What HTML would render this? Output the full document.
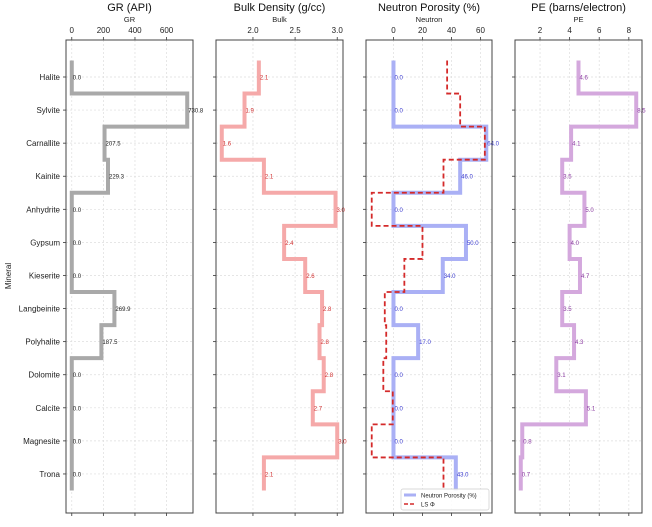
<!DOCTYPE html>
<html><head><meta charset="utf-8"><style>
body{margin:0;background:#fff;}
svg{font-family:"Liberation Sans","DejaVu Sans",sans-serif;}
</style></head><body>
<svg id="chart" width="652" height="522" xmlns="http://www.w3.org/2000/svg"></svg>
<script>
const minerals=["Halite","Sylvite","Carnallite","Kainite","Anhydrite","Gypsum","Kieserite","Langbeinite","Polyhalite","Dolomite","Calcite","Magnesite","Trona"];
const grValues=[0,730.8,207.5,229.3,0,0,0,269.9,187.5,0,0,0,0];
const bulkValues=[2.07,1.9,1.63,2.13,2.98,2.37,2.62,2.82,2.79,2.84,2.71,3.0,2.13];
const neutronValues=[0,0,64,46,0,50,34,0,17,0,0,0,43];
const lsPhiValues=[37,46,63,34.5,-15,20,7.5,-6,-5,-7,-0.5,-15,34.5];
const peValues=[4.6,8.5,4.1,3.5,5.0,4.0,4.7,3.5,4.3,3.1,5.1,0.8,0.7];
const grTicks=[0,200,400,600];
const bulkTicks=[2.0,2.5,3.0];
const neutronTicks=[0,20,40,60];
const peTicks=[2,4,6,8];

const svg=document.getElementById('chart');
const NS='http://www.w3.org/2000/svg';
function mk(tag,attrs,parent,text){const e=document.createElementNS(NS,tag);for(const k in attrs)e.setAttribute(k,attrs[k]);if(text!==undefined)e.textContent=text;(parent||svg).appendChild(e);return e;}
const plotTop=40,plotBottom=513;
const y0=77,dy=33.08;
function yPos(i){return y0+i*dy;}

const panels=[
 {name:"gr",title:"GR (API)",sub:"GR",x0:66,x1:193,series:[{v:grValues,color:"#a9a9a9",dash:null,w:4,lab:"#222"}],ticks:grTicks,tickFmt:v=>String(v)},
 {name:"bulk",title:"Bulk Density (g/cc)",sub:"Bulk",x0:216,x1:343,series:[{v:bulkValues,color:"#f5a9a9",dash:null,w:4,lab:"#d03030"}],ticks:bulkTicks,tickFmt:v=>v.toFixed(1)},
 {name:"neutron",title:"Neutron Porosity (%)",sub:"Neutron",x0:366,x1:492,series:[{v:neutronValues,color:"#aab0f5",dash:null,w:4,lab:"#3a3ad0"},{v:lsPhiValues,color:"#d42a2a",dash:"5,3",w:1.8,lab:null}],ticks:neutronTicks,tickFmt:v=>String(v)},
 {name:"pe",title:"PE (barns/electron)",sub:"PE",x0:515,x1:642,series:[{v:peValues,color:"#d4a8dd",dash:null,w:4,lab:"#8a3aa0"}],ticks:peTicks,tickFmt:v=>String(v)}
];

panels.forEach((p,pi)=>{
  const g=mk('g',{});
  
  
  let all=[];p.series.forEach(s=>all=all.concat(s.v));
  const mn=Math.min(...all),mx=Math.max(...all),m=(mx-mn)*0.05;
  const d0=mn-m,d1=mx+m;
  const X=v=>p.x0+(v-d0)/(d1-d0)*(p.x1-p.x0);
  const cx=(p.x0+p.x1)/2;
  const t=mk('text',{x:cx,y:11,'text-anchor':'middle','font-size':11,fill:'#111'},g,p.title);
  
  
  const st=mk('text',{x:cx,y:22,'text-anchor':'middle','font-size':7.5,fill:'#222'},g,p.sub);
  
  
  p.ticks.forEach(tv=>{
    const x=X(tv);
    mk('line',{x1:x,x2:x,y1:plotTop,y2:plotBottom,stroke:'#ddd','stroke-width':0.7,'stroke-dasharray':'2,2'},g);
    const tl=mk('text',{x:x,y:33,'text-anchor':'middle','font-size':8,fill:'#222'},g,p.tickFmt(tv));
    
    
    mk('line',{x1:x,x2:x,y1:plotTop,y2:plotTop-3,stroke:'#333','stroke-width':0.8},g);
    mk('line',{x1:x,x2:x,y1:plotBottom,y2:plotBottom+3,stroke:'#333','stroke-width':0.8},g);
  });
  minerals.forEach((mname,i)=>{
    const y=yPos(i);
    mk('line',{x1:p.x0,x2:p.x1,y1:y,y2:y,stroke:'#ddd','stroke-width':0.7,'stroke-dasharray':'2,2'},g);
    mk('line',{x1:p.x0,x2:p.x0-3,y1:y,y2:y,stroke:'#333','stroke-width':0.8},g);
    if(pi===0){
      const yl=mk('text',{x:p.x0-6,y:y+3,'text-anchor':'end','font-size':8,fill:'#222'},g,mname);
      
      
    }
  });
  p.series.forEach((s,si)=>{
    let d='';
    s.v.forEach((v,i)=>{
      const x=X(v),ya=yPos(i)-dy/2,yb=yPos(i)+dy/2;
      d+=(i===0?'M'+x+','+ya:'H'+x)+'V'+yb;
    });
    const path=mk('path',{d:d,fill:'none',stroke:s.color,'stroke-width':s.w},g);
    if(s.dash)path.setAttribute('stroke-dasharray',s.dash);
    
    
    if(s.lab){
      s.v.forEach((v,i)=>{
        const lt=mk('text',{x:X(v)+1,y:yPos(i)+2.5,'font-size':6,fill:s.lab},g,v.toFixed(1));
        
        
      });
    }
  });
  const fr=mk('rect',{x:p.x0,y:plotTop,width:p.x1-p.x0,height:plotBottom-plotTop,fill:'none',stroke:'#444','stroke-width':1},g);
  
  
  if(p.name==='neutron'){
    const lg=mk('g',{},g);
    
    
    mk('rect',{x:401,y:489,width:88,height:21,fill:'#fff','fill-opacity':0.85,stroke:'#ccc','stroke-width':0.7,rx:2},lg);
    mk('line',{x1:404,x2:416,y1:495,y2:495,stroke:'#aab0f5','stroke-width':3},lg);
    mk('text',{x:421,y:497.5,'font-size':6,fill:'#222'},lg,'Neutron Porosity (%)');
    mk('line',{x1:404,x2:416,y1:504,y2:504,stroke:'#d42a2a','stroke-width':1.6,'stroke-dasharray':'4,2'},lg);
    mk('text',{x:421,y:506.5,'font-size':6,fill:'#222'},lg,'LS Φ');
  }
});
const yt=mk('text',{x:11,y:276,'text-anchor':'middle','font-size':8,fill:'#222',transform:'rotate(-90 11 276)'},svg,'Mineral');


</script>
</body></html>
